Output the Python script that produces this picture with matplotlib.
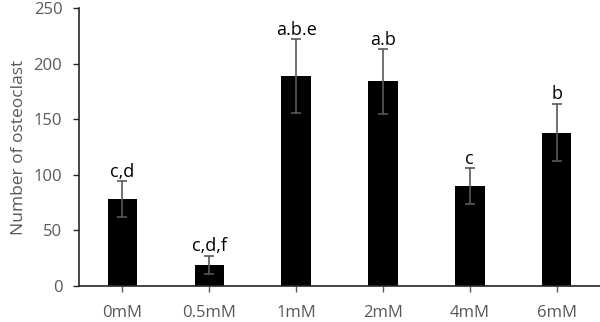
import matplotlib
matplotlib.use("Agg")
import matplotlib.pyplot as plt
import numpy as np

# data
groups = ["0mM", "0.5mM", "1mM", "2mM", "4mM", "6mM"]
osteoclasts = [78, 19, 189, 184, 90, 138]
sem = [16, 8, 33, 29, 16, 26]
letters = ["c,d", "c,d,f", "a.b.e", "a.b", "c", "b"]
yticks = [0, 50, 100, 150, 200, 250]

plt.rcParams["font.family"] = ["Open Sans", "DejaVu Sans"]
grey = "#595959"

fig = plt.figure(figsize=(6, 3.22), dpi=100)
ax = fig.add_axes([0.1317, 0.1118, 0.8683, 0.8632])

x = np.arange(len(groups))
ax.bar(x, osteoclasts, width=0.34, color="black", zorder=2)
ax.errorbar(x, osteoclasts, yerr=sem, fmt="none", ecolor=grey, elinewidth=1.2,
            capsize=3.5, capthick=1.2, zorder=3)
for xi, v, e, lab in zip(x, osteoclasts, sem, letters):
    ax.text(xi, v + e + 0.5, lab, ha="center", va="bottom", fontsize=13, color="black")

ax.set_xlim(-0.5, 5.5)
ax.set_ylim(0, 250)
ax.set_xticks(x)
ax.set_xticklabels(groups)
ax.set_yticks(yticks)
ax.set_ylabel("Number of osteoclast", color=grey, fontsize=12.5, labelpad=5)

for side in ["top", "right"]:
    ax.spines[side].set_visible(False)
ax.spines["left"].set_color("#262626")
ax.spines["bottom"].set_color("#262626")
ax.spines["left"].set_linewidth(1.2)
ax.spines["bottom"].set_linewidth(1.2)
ax.tick_params(axis="x", length=4, width=1, color=grey, labelcolor=grey, labelsize=12, pad=10)
ax.tick_params(axis="y", length=4, width=1, color="#262626", labelcolor=grey, labelsize=12, pad=8)

fig.savefig("out.png", dpi=100)
